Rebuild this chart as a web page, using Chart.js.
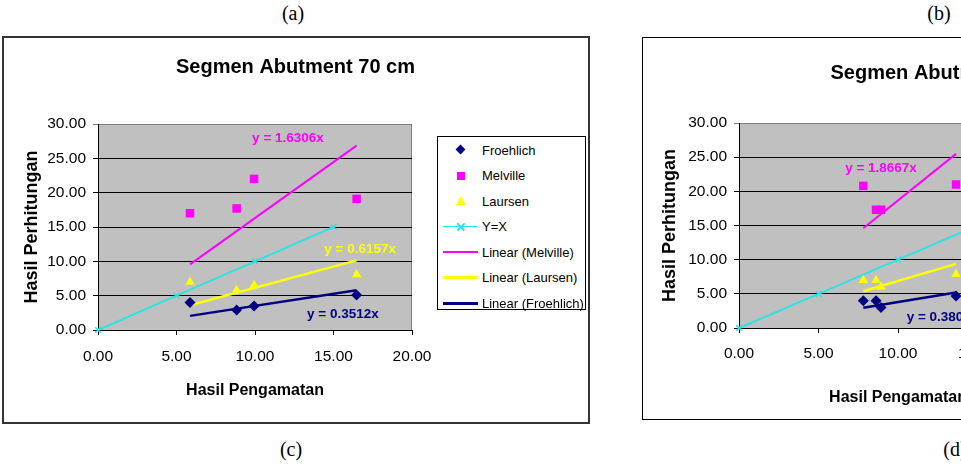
<!DOCTYPE html>
<html>
<head>
<meta charset="utf-8">
<script src="https://cdn.jsdelivr.net/npm/chart.js@4.4.1/dist/chart.umd.min.js"></script>
<style>
  html, body { margin: 0; padding: 0; background: #fff; overflow: hidden; }
  body { width: 961px; height: 469px; position: relative; }
  .cap { position: absolute; font-family: 'Liberation Serif', 'Times New Roman', serif; font-size: 20px; transform: translateX(-50%); color: #000; }
  .frame { position: absolute; box-sizing: border-box; }
  .chart-wrap { position: absolute; }
  .legend { position: absolute; box-sizing: border-box; border: 1px solid #000; background: #fff;
            font-family: 'Liberation Sans', Arial, sans-serif; font-size: 13px; }
  .legend-row { position: relative; height: 25.5px; }
  .legend-row span.txt { position: absolute; left: 44px; top: 50%; transform: translateY(-50%); white-space: nowrap; }
  .mk { position: absolute; }
</style>
</head>
<body>
<div class="cap" style="left:293px; top:2px;">(a)</div>
<div class="cap" style="left:939px; top:2px;">(b)</div>
<div class="cap" style="left:291px; top:438px;">(c)</div>
<div class="cap" style="left:955px; top:438px;">(d)</div>

<div class="chart-wrap" style="left:2px; top:37px; width:587px; height:386px;"><canvas id="chart-a" width="587" height="386"></canvas></div>
<div class="frame" style="left:2px; top:36px; width:588px; height:388px; border:2px solid #333;"></div>
<div class="legend" id="legend-a" style="left:437px; top:136px; width:149px; height:174px;"></div>

<div class="chart-wrap" style="left:642px; top:37px; width:616px; height:382px;"><canvas id="chart-b" width="616" height="382"></canvas></div>
<div class="frame" style="left:642px; top:37px; width:616px; height:383px; border:1px solid #000;"></div>

<script>
// (a) Segmen Abutment 70 cm
const observedA = [5.86, 8.83, 9.94, 16.47];
const froehlichA = [4.0, 2.9, 3.5, 5.1];
const melvilleA = [17.0, 17.7, 22.0, 19.1];
const laursenA = [7.0, 5.8, 6.5, 8.1];
const slopesA = [0.3512, 1.6306, 0.6157]; // Froehlich, Melville, Laursen

// (b) only partly visible
const observedB = [7.82, 8.62, 8.93, 13.65];
const froehlichB = [4.0, 4.0, 3.0, 4.7];
const melvilleB = [20.8, 17.3, 17.3, 21.0];
const laursenB = [7.0, 7.0, 6.0, 7.85];
const slopesB = [0.3803, 1.8667, 0.6870];

const identityXY = [0, 5, 10, 15];
const seriesNames = ['Froehlich', 'Melville', 'Laursen', 'Y=X', 'Linear (Melville)', 'Linear (Laursen)', 'Linear (Froehlich)'];

const NAVY = '#000080', MAGENTA = '#ff00ff', YELLOW = '#ffff00', CYAN = '#33e0e0';
const FONT = "'Liberation Sans', Arial, sans-serif";

Chart.defaults.font.family = FONT;
Chart.defaults.color = '#000';

const plotBackground = {
  id: 'plotBackground',
  beforeDraw(chart) {
    const { ctx, chartArea: a } = chart;
    ctx.save();
    ctx.fillStyle = '#c0c0c0';
    ctx.fillRect(a.left, a.top, a.right - a.left, a.bottom - a.top);
    ctx.strokeStyle = '#808080';
    ctx.lineWidth = 1;
    ctx.strokeRect(a.left + 0.5, a.top + 0.5, a.right - a.left - 1, a.bottom - a.top);
    ctx.restore();
  }
};

// chart title centred on the whole chart box (legend included), like Excel
const boxTitle = {
  id: 'boxTitle',
  afterDraw(chart, args, opts) {
    const { ctx } = chart;
    ctx.save();
    ctx.font = 'bold 20px ' + FONT;
    ctx.fillStyle = '#000';
    ctx.textAlign = 'center';
    ctx.textBaseline = 'middle';
    ctx.fillText(opts.text, chart.width / 2, opts.y);
    ctx.restore();
  }
};

const trendLabels = {
  id: 'trendLabels',
  afterDatasetsDraw(chart, args, opts) {
    const { ctx, scales: { x, y } } = chart;
    ctx.save();
    ctx.font = 'bold 13.5px ' + FONT;
    ctx.textAlign = 'center';
    ctx.textBaseline = 'middle';
    opts.items.forEach(it => {
      ctx.fillStyle = it.color;
      ctx.fillText(it.text, x.getPixelForValue(it.x), y.getPixelForValue(it.y));
    });
    ctx.restore();
  }
};

const pts = (xs, ys) => xs.map((v, i) => ({ x: v, y: ys[i] }));
const trend = (xs, slope) => {
  const lo = Math.min(...xs), hi = Math.max(...xs);
  return [{ x: lo, y: slope * lo }, { x: hi, y: slope * hi }];
};
const eq = s => 'y = ' + s.toFixed(4) + 'x';

const createChart = (canvasId, xs, fr, me, la, slopes, cfg) => {
  const ctx = document.getElementById(canvasId);
  new Chart(ctx, {
    type: 'scatter',
    data: {
      datasets: [
        { label: seriesNames[0], data: pts(xs, fr), pointStyle: 'rectRot', pointRadius: 5.5, backgroundColor: NAVY, borderColor: NAVY, borderWidth: 0, clip: false },
        { label: seriesNames[1], data: pts(xs, me), pointStyle: 'rect', pointRadius: 6, backgroundColor: MAGENTA, borderColor: MAGENTA, borderWidth: 0, clip: false },
        { label: seriesNames[2], data: pts(xs, la), pointStyle: 'triangle', pointRadius: 5.5, backgroundColor: YELLOW, borderColor: YELLOW, borderWidth: 0, clip: false },
        { label: seriesNames[3], data: pts(identityXY, identityXY), showLine: true, pointStyle: 'crossRot', pointRadius: 4, borderColor: CYAN, backgroundColor: CYAN, borderWidth: 2, pointBorderWidth: 1.5, clip: false },
        { label: seriesNames[4], data: trend(xs, slopes[1]), showLine: true, pointRadius: 0, borderColor: MAGENTA, borderWidth: 2 },
        { label: seriesNames[5], data: trend(xs, slopes[2]), showLine: true, pointRadius: 0, borderColor: YELLOW, borderWidth: 2.5 },
        { label: seriesNames[6], data: trend(xs, slopes[0]), showLine: true, pointRadius: 0, borderColor: NAVY, borderWidth: 2.5 }
      ]
    },
    options: {
      responsive: false,
      animation: false,
      events: [],
      layout: { padding: { left: 0, right: cfg.padRight, top: cfg.padTop, bottom: 0 } },
      scales: {
        x: {
          type: 'linear', min: 0, max: 20,
          ticks: { stepSize: 5, padding: cfg.xTickPad, font: { size: 15.5 }, color: '#000', callback: v => v.toFixed(2) },
          grid: { drawOnChartArea: false, drawTicks: true, tickLength: 5, color: '#000' },
          border: { color: '#000', width: 1 },
          title: { display: true, text: 'Hasil Pengamatan', font: { size: 16, weight: 'bold' }, color: '#000', padding: { top: 0, bottom: cfg.xTitlePad } },
          afterFit: s => { s.height = cfg.xHeight; }
        },
        y: {
          type: 'linear', min: 0, max: 30,
          ticks: { stepSize: 5, padding: 7, font: { size: 15.5 }, color: '#000', callback: v => v.toFixed(2) },
          grid: { tickLength: 5, color: c => (c.tick && c.tick.value === 30 ? '#808080' : '#000') },
          border: { color: '#000', width: 1 },
          title: { display: true, text: 'Hasil Perhitungan', font: { size: 18, weight: 'bold' }, color: '#000', padding: { top: cfg.yTitlePad, bottom: 0 } },
          afterFit: s => { s.width = cfg.yWidth; }
        }
      },
      plugins: {
        legend: { display: false },
        tooltip: { enabled: false },
        title: { display: false },
        boxTitle: { text: cfg.title, y: cfg.titleY },
        trendLabels: { items: cfg.labels }
      }
    },
    plugins: [plotBackground, trendLabels, boxTitle]
  });
};

createChart('chart-a', observedA, froehlichA, melvilleA, laursenA, slopesA, {
  title: 'Segmen Abutment 70 cm', titleY: 30,
  padRight: 177, padTop: 87, xHeight: 93, yWidth: 96,
  xTickPad: 12, xTitlePad: 23, yTitlePad: 19,
  labels: [
    { text: eq(slopesA[1]), color: MAGENTA, x: 12.1, y: 27.9 },
    { text: eq(slopesA[2]), color: YELLOW, x: 16.7, y: 11.8 },
    { text: eq(slopesA[0]), color: NAVY, x: 15.6, y: 2.3 }
  ]
});

createChart('chart-b', observedB, froehlichB, melvilleB, laursenB, slopesB, {
  title: 'Segmen Abutment 50 cm', titleY: 36,
  padRight: 201, padTop: 86, xHeight: 91, yWidth: 97,
  xTickPad: 11, xTitlePad: 12, yTitlePad: 17,
  labels: [
    { text: eq(slopesB[1]), color: MAGENTA, x: 8.93, y: 23.4 },
    { text: eq(slopesB[2]), color: YELLOW, x: 16.9, y: 11.0 },
    { text: eq(slopesB[0]), color: NAVY, x: 12.8, y: 1.6 }
  ]
});

// legend for (a), Excel style
const legendA = document.getElementById('legend-a');
const markers = [
  '<div class="mk" style="left:19px;top:9px;width:7px;height:7px;background:' + NAVY + ';transform:rotate(45deg);"></div>',
  '<div class="mk" style="left:19px;top:9px;width:8px;height:8px;background:' + MAGENTA + ';"></div>',
  '<div class="mk" style="left:18px;top:8px;width:0;height:0;border-left:5px solid transparent;border-right:5px solid transparent;border-bottom:9px solid ' + YELLOW + ';"></div>',
  '<div class="mk" style="left:5px;top:12px;width:35px;height:1.5px;background:' + CYAN + ';"></div>' +
    '<div class="mk" style="left:18px;top:12px;width:10px;height:1.5px;background:' + CYAN + ';transform:rotate(45deg);"></div>' +
    '<div class="mk" style="left:18px;top:12px;width:10px;height:1.5px;background:' + CYAN + ';transform:rotate(-45deg);"></div>',
  '<div class="mk" style="left:5px;top:11.5px;width:35px;height:2.5px;background:' + MAGENTA + ';"></div>',
  '<div class="mk" style="left:5px;top:11.5px;width:35px;height:2.5px;background:' + YELLOW + ';"></div>',
  '<div class="mk" style="left:5px;top:11.5px;width:35px;height:3px;background:' + NAVY + ';"></div>'
];
seriesNames.forEach((name, i) => {
  const row = document.createElement('div');
  row.className = 'legend-row';
  row.innerHTML = markers[i] + '<span class="txt">' + name + '</span>';
  legendA.appendChild(row);
});
</script>
</body>
</html>
